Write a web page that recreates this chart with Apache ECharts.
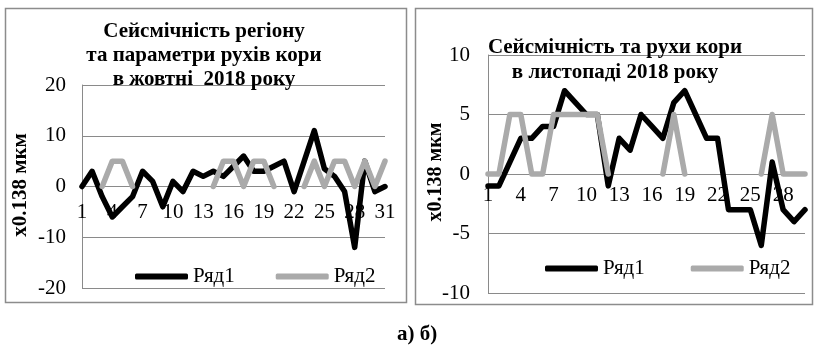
<!DOCTYPE html>
<html><head><meta charset="utf-8">
<script src="https://cdn.jsdelivr.net/npm/echarts@6/dist/echarts.min.js"></script>
<style>html,body{margin:0;padding:0;background:#fff}#c{width:820px;height:347px}</style>
</head><body><div id="c"></div>
<script>
const octDays = ['1','2','3','4','5','6','7','8','9','10','11','12','13','14','15','16','17','18','19','20','21','22','23','24','25','26','27','28','29','30','31'];
const octRow1 = [0,3,-2,-6,-4,-2,3,1,-4,1,-1,3,2,3,2,4,6,3,3,4,5,-1,5,11,3.5,2,-1,-12,5,-1,0];
const octRow2 = [null,null,0,5,5,0,null,null,null,null,null,null,null,0,5,5,0,5,5,0,null,null,0,5,0,5,5,0,5,0,5];
const novDays = ['1','2','3','4','5','6','7','8','9','10','11','12','13','14','15','16','17','18','19','20','21','22','23','24','25','26','27','28','29','30'];
const novRow1 = [-1,-1,1,3,3,4,4,7,6,5,5,-1,3,2,5,4,3,6,7,5,3,3,-3,-3,-3,-6,1,-3,-4,-3];
const novRow2 = [0,0,5,5,0,0,5,5,5,5,5,0,null,null,null,null,0,5,0,null,null,null,null,null,null,0,5,0,0,0];
const leftTicks = {min:-20, max:20, interval:10};
const rightTicks = {min:-10, max:10, interval:5};
const seriesNames = ['Ряд1','Ряд2'];
const titleA = 'Сейсмічність регіону\nта параметри рухів кори\nв жовтні  2018 року';
const titleB = 'Сейсмічність та рухи кори\nв листопаді 2018 року';
const yName = 'x0.138 мкм';
const caption = 'а) б)';

const FONT = '"Liberation Serif","Times New Roman",serif';
const GRID = '#8a8a8a';
const H = 347;
const grids = [
  {left:82, right:435, top:85, bottom:H-288},
  {left:488, right:15, top:55, bottom:H-293}
];
const chart = echarts.init(document.getElementById('c'), null, {renderer:'canvas'});

// move the category axis from the grid bottom up to value 0 of its value axis
function zeroOffset(g, t){
  const h = H - g.top - g.bottom;
  return -h * (0 - t.min) / (t.max - t.min);
}
function xAxisOf(idx, data, margin, t){
  return {type:'category', gridIndex:idx, data:data, boundaryGap:false, position:'bottom',
    offset: zeroOffset(grids[idx], t),
    axisLine:{show:true, onZero:false, lineStyle:{color:GRID, width:1}},
    axisTick:{show:false},
    axisLabel:{interval:2, margin:margin, fontFamily:FONT, fontSize:21, color:'#000', hideOverlap:false},
    splitLine:{show:false}};
}
function yAxisOf(idx, t, margin){
  return {type:'value', gridIndex:idx, min:t.min, max:t.max, interval:t.interval,
    axisLine:{show:true, onZero:false, lineStyle:{color:GRID, width:1}},
    axisTick:{show:false},
    axisLabel:{margin:margin, fontFamily:FONT, fontSize:21, color:'#000'},
    splitLine:{show:true, lineStyle:{color:GRID, width:1}}};
}
function lineSeries(name, idx, data, color){
  return {type:'line', name:name, xAxisIndex:idx, yAxisIndex:idx, data:data,
    showSymbol:false, symbol:'none', connectNulls:false,
    lineStyle:{color:color, width:5.5, cap:'round', join:'round'}, itemStyle:{color:color}, z:3};
}

chart.setOption({
  animation:false,
  grid:grids.map(g => Object.assign({containLabel:false}, g)),
  xAxis:[xAxisOf(0, octDays, 15, leftTicks), xAxisOf(1, novDays, 11, rightTicks)],
  yAxis:[yAxisOf(0, leftTicks, 16), yAxisOf(1, rightTicks, 18)],
  legend:[
    {left:130, top:261, itemWidth:53, itemHeight:6, itemGap:41, icon:'roundRect',
     data:seriesNames, textStyle:{fontFamily:FONT, fontSize:21, color:'#000'}, selectedMode:false},
    {left:540, top:253, itemWidth:53, itemHeight:6, itemGap:46, icon:'roundRect',
     data:seriesNames, textStyle:{fontFamily:FONT, fontSize:21, color:'#000'}, selectedMode:false}
  ],
  series:[
    lineSeries(seriesNames[0], 0, octRow1, '#000000'),
    lineSeries(seriesNames[1], 0, octRow2, '#aaaaaa'),
    lineSeries(seriesNames[0], 1, novRow1, '#000000'),
    lineSeries(seriesNames[1], 1, novRow2, '#aaaaaa')
  ],
  graphic:[
    {type:'rect', shape:{x:5.5, y:8.5, width:401, height:294}, style:{fill:'none', stroke:'#8c8c8c', lineWidth:1.5}, z:-1},
    {type:'rect', shape:{x:415.5, y:8.5, width:397, height:296}, style:{fill:'none', stroke:'#8c8c8c', lineWidth:1.5}, z:-1},
    {type:'text', x:204, y:20, z:10, style:{text:titleA, font:'bold 21px '+FONT, align:'center', verticalAlign:'top', lineHeight:24, fill:'#000'}},
    {type:'text', x:615, y:35, z:10, style:{text:titleB, font:'bold 21px '+FONT, align:'center', verticalAlign:'top', lineHeight:25, fill:'#000'}},
    {type:'text', x:21, y:185, rotation:Math.PI/2, z:10, style:{text:yName, font:'bold 21px '+FONT, align:'center', verticalAlign:'middle', fill:'#000'}},
    {type:'text', x:436, y:172, rotation:Math.PI/2, z:10, style:{text:yName, font:'bold 20px '+FONT, align:'center', verticalAlign:'middle', fill:'#000'}},
    {type:'text', x:417, y:335, z:10, style:{text:caption, font:'bold 21px '+FONT, align:'center', verticalAlign:'middle', fill:'#000'}}
  ]
});
</script></body></html>
